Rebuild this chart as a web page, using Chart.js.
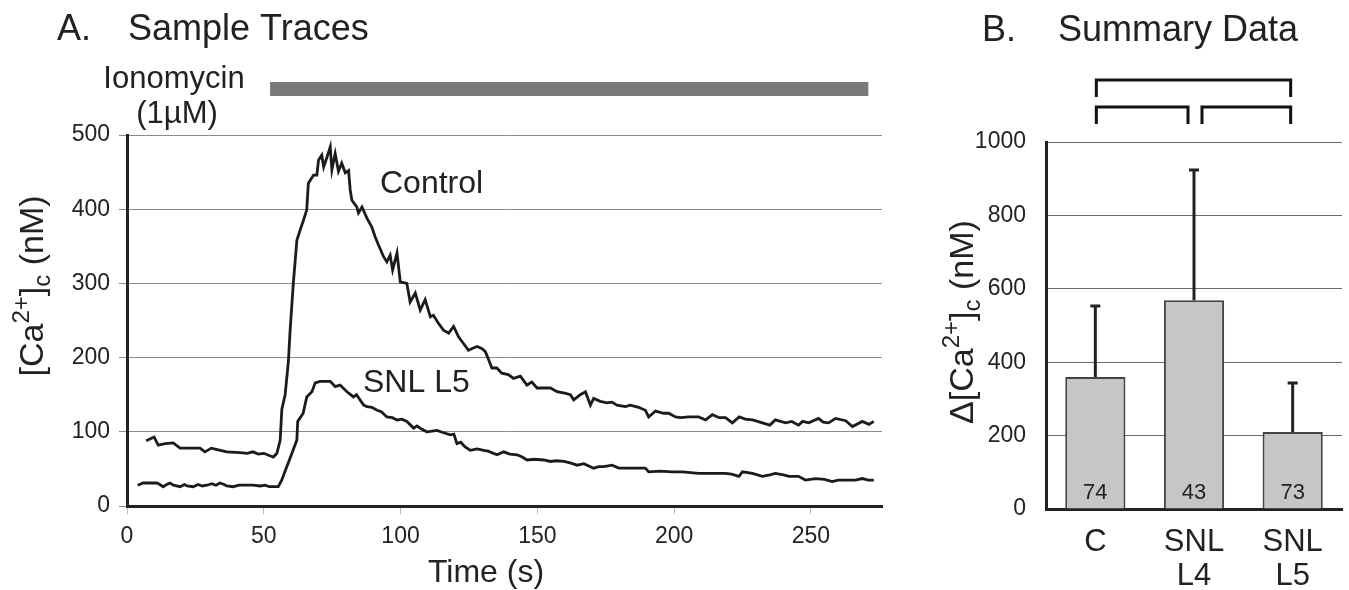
<!DOCTYPE html>
<html>
<head>
<meta charset="utf-8">
<title>Ionomycin Ca2+ responses</title>
<script src="https://cdn.jsdelivr.net/npm/chart.js@4.4.1/dist/chart.umd.min.js"></script>
<style>
  html, body { margin: 0; padding: 0; background: #fff; }
  body { width: 1349px; height: 590px; position: relative; overflow: hidden; }
  #wrapA { position: absolute; left: 0; top: 0; width: 900px; height: 590px; }
  #wrapB { position: absolute; left: 900px; top: 0; width: 449px; height: 590px; }
</style>
</head>
<body>
<div id="wrapA"><canvas id="traces" width="900" height="590"></canvas></div>
<div id="wrapB"><canvas id="summary" width="449" height="590"></canvas></div>

<script>
// ---- Panel A data ----
const ctrlTime = [7, 9.9, 11.4, 14, 16.9, 19.4, 23, 26.7, 28.5, 30.8, 33, 36.5, 41.3, 44, 46, 48, 50, 52, 53.5, 54.8,
  56, 56.6, 57.8, 59, 59.6, 60.8, 62.1, 63.3, 64.5, 65.7, 66.3, 68.2, 69.4, 70, 71.2, 71.9, 73.1, 74.3, 74.9, 76.1,
  77.3, 78.5, 79.8, 81, 81.6, 82.2, 84, 84.6, 85.9, 87.7, 89.5, 90.7, 91.9, 93.8, 95, 96.2, 97.1, 98.7, 99.9, 102.3,
  103.5, 105.4, 107.2, 109, 110.9, 112, 113.9, 115.7, 117.6, 119.4, 121.2, 123, 124.8, 126, 128, 129.8, 131, 132.2, 133.4, 135.2,
  137, 139.4, 141.3, 143.8, 146.2, 148, 149.9, 154.8, 157.2, 160, 162.1, 163.3, 165.7, 167.6, 169.4, 170.6, 173, 175.5, 177.3, 179.1,
  182.2, 184, 187, 189.5, 190.7, 193.2, 196.2, 198, 200.5, 202.3, 205.3, 209, 211.5, 214, 216.5, 218.8, 221.3, 223.8, 226, 228.7,
  232.3, 235, 237, 240.8, 243, 245.5, 247, 249.2, 252.8, 254.5, 256.5, 259, 262.7, 265.2, 268.8, 271.2, 273];
const ctrlConc = [88, 93, 82, 84, 85, 78, 78, 78, 73, 78, 76, 73, 72, 71, 73, 70, 71, 68, 66, 71,
  89, 130, 150, 195, 235, 300, 358, 372, 385, 399, 435, 446, 446, 466, 473, 457, 470, 484, 453, 475,
  451, 462, 449, 452, 426, 412, 403, 395, 403, 388, 376, 363, 352, 336, 329, 338, 318, 341, 302, 300,
  275, 287, 264, 278, 255, 257, 246, 237, 233, 242, 228, 219, 210, 212, 215, 212, 208, 197, 186, 186,
  179, 177, 172, 175, 163, 167, 159, 159, 154, 152, 150, 143, 150, 154, 136, 145, 141, 139, 140, 136,
  134, 136, 133, 129, 120, 128, 125, 125, 120, 119, 120, 120, 116, 123, 119, 119, 112, 120, 117, 116,
  112, 109, 116, 112, 114, 109, 114, 112, 118, 113, 112, 118, 115, 107, 114, 110, 114];

const snlTime = [3.9, 5.9, 8, 10.9, 12, 13.2, 14.5, 15.7, 17, 19.4, 21, 22, 24.2, 26, 27.5, 29.2, 31, 32.5, 34, 35.5,
  36.5, 38.8, 41, 43.8, 46, 48.7, 50.5, 52, 55.3, 56.6, 58.4, 60.3, 62.1, 62.4, 64.4, 65.7, 67.6, 68.8, 70.6, 74.3,
  76.1, 77.9, 80.4, 82.8, 83.9, 86.5, 87.7, 89.5, 91.4, 93, 95, 97, 98.7, 100.5, 102.3, 104.8, 106, 107.5, 109.6, 111.5,
  113.3, 115.5, 118.2, 119.5, 120.6, 122, 123.5, 125.5, 128, 130.4, 132, 135.3, 137.7, 140, 142.6, 144.5, 146.2, 149, 152.3, 154.8,
  157, 159.7, 162, 164.6, 167, 170.6, 172.5, 174.3, 177.3, 179.8, 184, 187, 189.5, 190.7, 195, 199.3, 203, 206, 209, 212,
  215.1, 218.8, 221, 223.7, 225, 228.6, 232.3, 235, 237, 240, 242, 245.5, 248, 251.7, 255, 257.8, 260, 262.7, 266.3, 268.8,
  271, 273];
const snlConc = [28, 31, 31, 31, 29, 26, 29, 31, 28, 26, 29, 27, 26, 29, 27, 28, 30, 28, 31, 29,
  27, 26, 28, 28, 28, 27, 28, 26, 26, 35, 53, 71, 89, 114, 125, 147, 154, 166, 168, 168,
  161, 163, 154, 147, 150, 136, 134, 133, 129, 127, 120, 119, 116, 117, 114, 105, 108, 104, 100, 101,
  102, 99, 96, 97, 84, 86, 80, 75, 77, 75, 74, 69, 73, 70, 69, 66, 62, 63, 62, 60,
  61, 60, 58, 55, 57, 51, 53, 53, 55, 51, 51, 51, 51, 46, 47, 46, 46, 45, 44, 44,
  44, 44, 43, 40, 46, 44, 40, 42, 44, 42, 40, 40, 35, 37, 36, 33, 35, 35, 35, 37,
  35, 35];

const timeTicks = [0, 50, 100, 150, 200, 250];
const concTicks = [0, 100, 200, 300, 400, 500];
const ionoStart = 52.3;   // s, ionomycin bar
const ionoEnd = 271;

// ---- Panel B data ----
const groups = [['C'], ['SNL', 'L4'], ['SNL', 'L5']];
const meanRise = [360, 569, 210];
const semRise = [193, 355, 133];
const nCells = ['74', '43', '73'];
const riseTicks = [0, 200, 400, 600, 800, 1000];
const sigPairs = [[0, 2], [0, 1], [1, 2]];

const FONT = '"Liberation Sans", Arial, Helvetica, sans-serif';
const INK = '#222';

function toPoints(xs, ys) {
    return xs.map((x, i) => ({ x: x, y: ys[i] }));
}

// draws text made of normal / superscript / subscript parts, centred on (cx, cy)
function drawRich(ctx, parts, cx, cy, size, rotate) {
    ctx.save();
    ctx.translate(cx, cy);
    if (rotate) ctx.rotate(-Math.PI / 2);
    const small = Math.round(size * 0.7);
    let total = 0;
    parts.forEach(p => {
        ctx.font = (p.sup || p.sub ? small : size) + 'px ' + FONT;
        p.w = ctx.measureText(p.t).width;
        total += p.w;
    });
    let x = -total / 2;
    ctx.fillStyle = INK;
    ctx.textBaseline = 'alphabetic';
    ctx.textAlign = 'left';
    parts.forEach(p => {
        ctx.font = (p.sup || p.sub ? small : size) + 'px ' + FONT;
        let dy = 0;
        if (p.sup) dy = -size * 0.42;
        if (p.sub) dy = size * 0.2;
        ctx.fillText(p.t, x, size * 0.36 + dy);
        x += p.w;
    });
    ctx.restore();
}

function text(ctx, str, x, y, size, align) {
    ctx.font = size + 'px ' + FONT;
    ctx.fillStyle = INK;
    ctx.textAlign = align || 'left';
    ctx.textBaseline = 'alphabetic';
    ctx.fillText(str, x, y);
}

// ---- Panel A ----
const tracesDecor = {
    id: 'tracesDecor',
    afterDraw(chart) {
        const ctx = chart.ctx;
        const xs = chart.scales.x;
        ctx.save();
        text(ctx, 'A.', 57, 40, 36);
        text(ctx, 'Sample Traces', 128, 40, 36);
        text(ctx, 'Ionomycin', 174, 88, 31, 'center');
        text(ctx, '(1\u00B5M)', 177, 123, 31, 'center');

        ctx.fillStyle = '#7a7a7a';
        const x1 = xs.getPixelForValue(ionoStart);
        const x2 = xs.getPixelForValue(ionoEnd);
        ctx.fillRect(x1, 82, x2 - x1, 14);

        text(ctx, 'Control', 380, 193, 32);
        text(ctx, 'SNL L5', 363, 392, 32);

        text(ctx, 'Time (s)', 486, 582, 32, 'center');
        drawRich(ctx, [{ t: '[Ca' }, { t: '2+', sup: true }, { t: ']' }, { t: 'c', sub: true }, { t: ' (nM)' }],
            31, 286, 34, true);
        ctx.restore();
    }
};

new Chart(document.getElementById('traces'), {
    type: 'line',
    data: {
        datasets: [
            { label: 'Control', data: toPoints(ctrlTime, ctrlConc) },
            { label: 'SNL L5', data: toPoints(snlTime, snlConc) }
        ]
    },
    options: {
        responsive: false,
        animation: false,
        devicePixelRatio: 1,
        layout: { padding: { left: 0, top: 135, right: 18, bottom: 0 } },
        elements: {
            line: { borderColor: '#1b1b1b', borderWidth: 2.8, tension: 0 },
            point: { radius: 0 }
        },
        plugins: { legend: { display: false }, tooltip: { enabled: false } },
        scales: {
            x: {
                type: 'linear',
                min: 0,
                max: 276,
                afterBuildTicks: s => { s.ticks = timeTicks.map(v => ({ value: v })); },
                afterFit: s => { s.height = 84; },
                border: { color: INK, width: 3 },
                grid: { drawOnChartArea: false, drawTicks: true, tickLength: 8, color: '#bdbdbd' },
                ticks: { font: { family: FONT, size: 23 }, color: INK, padding: 9, maxRotation: 0,
                    callback: v => String(v) }
            },
            y: {
                min: 0,
                max: 500,
                afterBuildTicks: s => { s.ticks = concTicks.map(v => ({ value: v })); },
                afterFit: s => { s.width = 127; },
                border: { color: INK, width: 3 },
                grid: { color: '#8a8a8a', lineWidth: 1, tickLength: 8, tickColor: '#8a8a8a' },
                ticks: { font: { family: FONT, size: 23 }, color: INK, padding: 9,
                    callback: v => String(v) }
            }
        }
    },
    plugins: [tracesDecor]
});

// ---- Panel B ----
const summaryDecor = {
    id: 'summaryDecor',
    afterDatasetsDraw(chart) {
        const ctx = chart.ctx;
        const ys = chart.scales.y;
        const bars = chart.getDatasetMeta(0).data;
        const area = chart.chartArea;
        ctx.save();

        // upper error bars
        ctx.strokeStyle = INK;
        ctx.lineWidth = 3;
        bars.forEach((b, i) => {
            const yTop = ys.getPixelForValue(meanRise[i] + semRise[i]);
            ctx.beginPath();
            ctx.moveTo(b.x, b.y);
            ctx.lineTo(b.x, yTop);
            ctx.moveTo(b.x - 5, yTop);
            ctx.lineTo(b.x + 5, yTop);
            ctx.stroke();
        });

        // n per group
        bars.forEach((b, i) => {
            text(ctx, nCells[i], b.x, area.bottom - 10, 22, 'center');
        });

        // significance brackets
        ctx.lineWidth = 3;
        ctx.strokeStyle = '#111';
        sigPairs.forEach((p, k) => {
            const top = k === 0 ? area.top - 62 : area.top - 35;
            const xa = bars[p[0]].x + (p[0] === 1 ? 8 : 1);
            const xb = bars[p[1]].x - (p[1] === 1 ? 6 : 2);
            ctx.beginPath();
            ctx.moveTo(xa, top + 17);
            ctx.lineTo(xa, top);
            ctx.lineTo(xb, top);
            ctx.lineTo(xb, top + 17);
            ctx.stroke();
        });
        ctx.restore();
    },
    afterDraw(chart) {
        const ctx = chart.ctx;
        ctx.save();
        text(ctx, 'B.', 82, 41, 36);
        text(ctx, 'Summary Data', 158, 41, 36);
        drawRich(ctx, [{ t: '\u0394[Ca' }, { t: '2+', sup: true }, { t: ']' }, { t: 'c', sub: true }, { t: ' (nM)' }],
            61, 322, 34, true);
        ctx.restore();
    }
};

new Chart(document.getElementById('summary'), {
    type: 'bar',
    data: {
        labels: groups,
        datasets: [{
            data: meanRise,
            backgroundColor: '#c6c6c6',
            borderColor: '#444',
            borderWidth: 2,
            barPercentage: 0.61,
            categoryPercentage: 1
        }]
    },
    options: {
        responsive: false,
        animation: false,
        devicePixelRatio: 1,
        layout: { padding: { left: 0, top: 142, right: 7, bottom: 0 } },
        plugins: { legend: { display: false }, tooltip: { enabled: false } },
        scales: {
            x: {
                afterFit: s => { s.height = 81; },
                border: { color: INK, width: 3 },
                grid: { display: false },
                ticks: { font: { family: FONT, size: 31, lineHeight: 1.1 }, color: INK, padding: 8, maxRotation: 0 }
            },
            y: {
                min: 0,
                max: 1000,
                afterBuildTicks: s => { s.ticks = riseTicks.map(v => ({ value: v })); },
                afterFit: s => { s.width = 146; },
                border: { color: INK, width: 3 },
                grid: { color: '#6a6a6a', lineWidth: 1, drawTicks: false },
                ticks: { font: { family: FONT, size: 23 }, color: INK, padding: 20,
                    callback: v => String(v) }
            }
        }
    },
    plugins: [summaryDecor]
});
</script>
</body>
</html>
